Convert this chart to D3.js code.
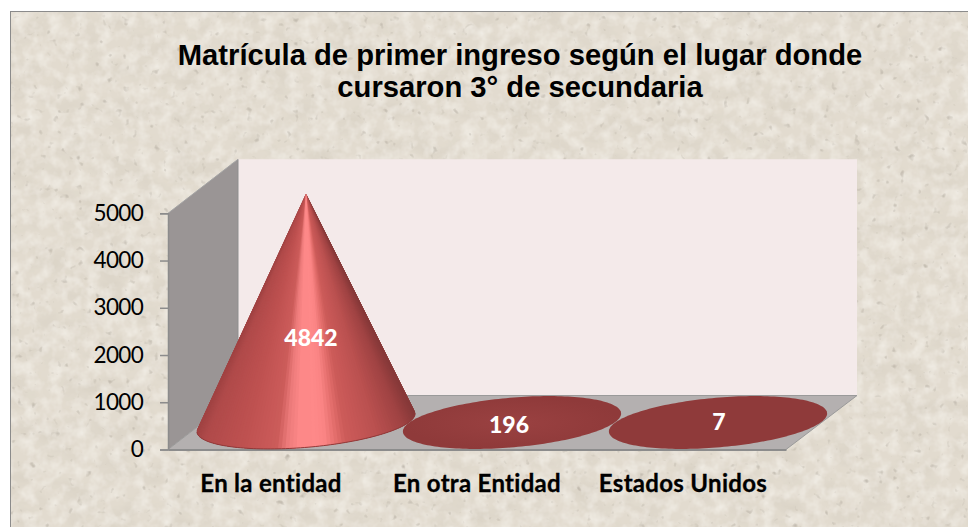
<!DOCTYPE html>
<html><head><meta charset="utf-8">
<style>html,body{margin:0;padding:0;background:#fff}svg{display:block}text{font-variant-ligatures:none}</style>
<script src="https://cdn.jsdelivr.net/npm/d3@7"></script>
</head><body><svg id="c" width="968" height="527"></svg>
<script>
const categories = ["En la entidad", "En otra Entidad", "Estados Unidos"];
const values = [4842, 196, 7];
const yTicks = [0, 1000, 2000, 3000, 4000, 5000];
const titleLines = ["Matrícula de primer ingreso según el lugar donde", "cursaron 3° de secundaria"];

const svg = d3.select("#c");
const defs = svg.append("defs");

// paper texture
const f = defs.append("filter").attr("id","paper").attr("x",0).attr("y",0).attr("width","100%").attr("height","100%");
f.append("feTurbulence").attr("type","fractalNoise").attr("baseFrequency","0.03 0.05").attr("numOctaves",4).attr("seed",7).attr("result","n");
f.append("feColorMatrix").attr("in","n").attr("type","matrix")
 .attr("values","0 0 0 0 0.55  0 0 0 0 0.50  0 0 0 0 0.42  0.55 0 0 0 -0.22").attr("result","cloud");
f.append("feTurbulence").attr("type","fractalNoise").attr("baseFrequency","0.13").attr("numOctaves",2).attr("seed",21).attr("result","s");
f.append("feColorMatrix").attr("in","s").attr("type","matrix")
 .attr("values","0 0 0 0 0.42  0 0 0 0 0.38  0 0 0 0 0.32  0 3.2 0 0 -2.2").attr("result","speck0");
f.append("feGaussianBlur").attr("in","speck0").attr("stdDeviation",0.7).attr("result","speck");
f.append("feTurbulence").attr("type","fractalNoise").attr("baseFrequency","0.08").attr("numOctaves",3).attr("seed",3).attr("result","l");
f.append("feColorMatrix").attr("in","l").attr("type","matrix")
 .attr("values","0 0 0 0 0.97  0 0 0 0 0.95  0 0 0 0 0.91  0 0 1.0 0 -0.38").attr("result","light");
f.append("feMerge").call(m=>{
  m.append("feMergeNode").attr("in","SourceGraphic");
  m.append("feMergeNode").attr("in","cloud");
  m.append("feMergeNode").attr("in","light");
  m.append("feMergeNode").attr("in","speck");
});
svg.append("rect").attr("x",10).attr("y",11).attr("width",960).attr("height",518)
  .attr("fill","#e2dbcf").attr("filter","url(#paper)");
svg.append("rect").attr("x",10.5).attr("y",11.5).attr("width",960).attr("height",518)
  .attr("fill","none").attr("stroke","#8b8b8b").attr("stroke-width",1);

// 3D frame
const depth = {x:70, y:-54};
const x = d3.scaleBand().domain(categories).range([168,786]);
const y = d3.scaleLinear().domain([0,5000]).range([449.5,213.3]);
const y0 = y(0), yMax = y(5000), xL = x.range()[0], xR = x.range()[1];

svg.append("polygon").attr("fill","#f4eaea")
  .attr("points",[[xL+depth.x,yMax+depth.y],[xR+depth.x+1,yMax+depth.y],[xR+depth.x+1,y0+depth.y],[xL+depth.x,y0+depth.y]].join(" "));
svg.append("polygon").attr("fill","#9a9595")
  .attr("points",[[xL,yMax],[xL+depth.x,yMax+depth.y],[xL+depth.x,y0+depth.y],[xL,y0]].join(" "));
svg.append("polygon").attr("fill","#b4b0b0").attr("stroke","#9a9a9a").attr("stroke-width",1)
  .attr("points",[[xL,y0],[xL+depth.x,y0+depth.y],[xR+depth.x+1,y0+depth.y],[xR,y0]].join(" "));
svg.append("line").attr("x1",xL+depth.x).attr("x2",xL+depth.x).attr("y1",yMax+depth.y).attr("y2",y0+depth.y)
  .attr("stroke","#8f8f8f").attr("stroke-width",1);
svg.append("line").attr("x1",xL).attr("x2",xL+depth.x).attr("y1",yMax).attr("y2",yMax+depth.y)
  .attr("stroke","#a5a5a5").attr("stroke-width",1);

// axes
const yAxis = svg.append("g").attr("transform",`translate(${xL},0)`)
  .call(d3.axisLeft(y).tickValues(yTicks).tickSize(8).tickPadding(17).tickFormat(d3.format("d")));
yAxis.select(".domain").attr("stroke","#8c8c8c").attr("stroke-width",1.5);
yAxis.selectAll(".tick line").attr("stroke","#8c8c8c").attr("stroke-width",1.5);
yAxis.selectAll("text").attr("font-family","Lato").attr("font-size",22.5).attr("letter-spacing",-0.7).attr("fill","#000");

const xAxis = svg.append("g").attr("transform",`translate(0,${y0})`)
  .call(d3.axisBottom(x).tickSize(0).tickPadding(25));
xAxis.select(".domain").attr("stroke","#8c8c8c").attr("stroke-width",2);
xAxis.selectAll("text").attr("font-family","Lato").attr("font-weight",700).attr("font-size",24).attr("letter-spacing",0.3)
  .attr("stroke","#000").attr("stroke-width",0.3).attr("fill","#000");

// cones
const rx = 109.5, ry = 24.8, theta = -4.95*Math.PI/180;
const rim = (cx,cy,t)=>{
  const a = rx*Math.cos(t), b = ry*Math.sin(t);
  return [cx + a*Math.cos(theta) - b*Math.sin(theta), cy + a*Math.sin(theta) + b*Math.cos(theta)];
};
const shade = d3.scaleLinear()
  .domain([0, .05, .25, .39, .44, .5, .56, .62, .66, .8, .93, 1])
  .range(["#a04343","#b04a4a","#c05251","#cc5c5a","#ec7a7a","#ff8a8a","#fb8585","#e06b69","#cc5b59","#bb5150","#a04343","#853838"])
  .interpolate(d3.interpolateRgb);

const n = 180, dt = 2*Math.PI/n;
const marks = svg.append("g");
const flatGrad = defs.append("radialGradient").attr("id","flat");
flatGrad.append("stop").attr("offset","0").attr("stop-color","#9a4141");
flatGrad.append("stop").attr("offset","1").attr("stop-color","#8f3a3a");

values.forEach((v,i)=>{
  const g = marks.append("g");
  const cx = x(categories[i]) + x.bandwidth()/2 + depth.x/2;
  const cy = y0 + depth.y/2;
  const apex = [cx, cy - (y0 - y(v))];
  const pts = d3.range(n).map(k=>k*dt);
  if (cy - apex[1] > ry*1.2) {
    const ext = rim(cx,cy,0)[0]-cx;
    // overlapping slices, outer ones first, so no seams show and the highlight reaches the tip
    const near = pts.filter(t=>t<=Math.PI*1.06 || t>=Math.PI*1.94)
      .sort((a,b)=>Math.abs(rim(cx,cy,b)[0]-cx)-Math.abs(rim(cx,cy,a)[0]-cx));
    g.selectAll("path").data(near).join("path")
      .attr("d",t=>`M${apex}L${rim(cx,cy,t-2*dt)}L${rim(cx,cy,t)}L${rim(cx,cy,t+2*dt)}Z`)
      .attr("fill",t=>shade((rim(cx,cy,t)[0]-cx)/(2*ext)+.5));
    g.append("path").attr("fill","none").attr("stroke","#8f3a3a").attr("stroke-width",1)
      .attr("d",d3.line()(d3.range(0,n/2+1).map(k=>rim(cx,cy,k*dt))));
  } else {
    g.append("path").attr("fill",v>50?"url(#flat)":"#8f3a3a")
      .attr("d",d3.line().curve(d3.curveLinearClosed)(pts.map(t=>rim(cx,cy,t))));
  }
  const big = v>1000;
  g.append("text").text(v)
    .attr("x",cx+(big?5:(v>50?-3:1)))
    .attr("y",big?(apex[1]+cy)/2+38:cy+(v>50?10:7))
    .attr("text-anchor","middle").attr("font-family","Lato").attr("font-weight",900)
    .attr("font-size",23).attr("fill","#fff");
});

// title
svg.append("text").attr("text-anchor","middle").attr("font-family","Liberation Sans").attr("font-weight",700)
  .attr("font-size",29.2).attr("fill","#000")
  .selectAll("tspan").data(titleLines).join("tspan")
  .attr("x",520).attr("y",(d,i)=>65+i*32).text(d=>d);
</script></body></html>
